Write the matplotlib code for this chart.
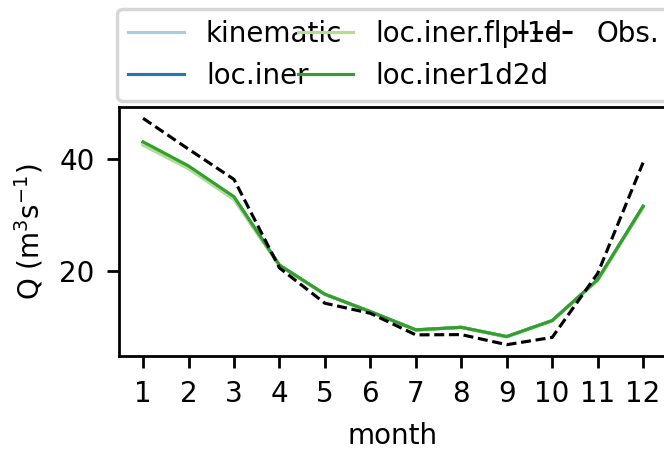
import matplotlib
matplotlib.use("Agg")
import matplotlib.pyplot as plt

months = [1, 2, 3, 4, 5, 6, 7, 8, 9, 10, 11, 12]
kinematic = [42.5, 38.3, 32.8, 21.0, 15.9, 12.8, 9.5, 10.0, 8.3, 11.2, 18.4, 31.4]
loc_iner = [43.0, 38.7, 33.2, 21.1, 15.9, 12.8, 9.55, 10.0, 8.35, 11.2, 18.5, 31.6]
loc_iner_flpl1d = [42.6, 38.4, 32.9, 21.0, 15.9, 12.8, 9.5, 10.0, 8.3, 11.2, 18.4, 31.4]
loc_iner1d2d = [43.1, 38.8, 33.3, 21.1, 15.9, 12.8, 9.55, 10.0, 8.35, 11.2, 18.5, 31.6]
obs = [47.3, 41.8, 36.4, 20.6, 14.3, 12.5, 8.65, 8.7, 6.9, 8.2, 19.6, 39.4]

series = [
    ("kinematic", kinematic, "#a6cee3"),
    ("loc.iner", loc_iner, "#1f78b4"),
    ("loc.iner.flpl1d", loc_iner_flpl1d, "#b2df8a"),
    ("loc.iner1d2d", loc_iner1d2d, "#33a02c"),
]

plt.rcParams["font.size"] = 8
DPI = 250
W, H = 664, 453
fig = plt.figure(figsize=(W / DPI, H / DPI), dpi=DPI)
ax = fig.add_axes([119 / W, (H - 356) / H, 570 / W, 249 / H])

for name, vals, col in series:
    ax.plot(months, vals, color=col, lw=0.9, label=name)
ax.plot(months, obs, color="black", lw=0.9, dashes=(3.2, 1.5), label="Obs.")

ax.set_xlim(0.47, 13.01)
ax.set_xticks(months)
ax.set_yticks([20, 40])
ax.set_xlabel("month", x=(643 - 119 + 143 - 119) / 2 / 570 + 0.0)
ax.set_ylabel("Q (m$^3$s$^{-1}$)")

fig.legend(loc="lower left", bbox_to_anchor=(117 / W, (H - 101) / H),
           bbox_transform=fig.transFigure, ncol=3, columnspacing=-1.6,
           borderaxespad=0)

fig.savefig("out.png", dpi=DPI)
